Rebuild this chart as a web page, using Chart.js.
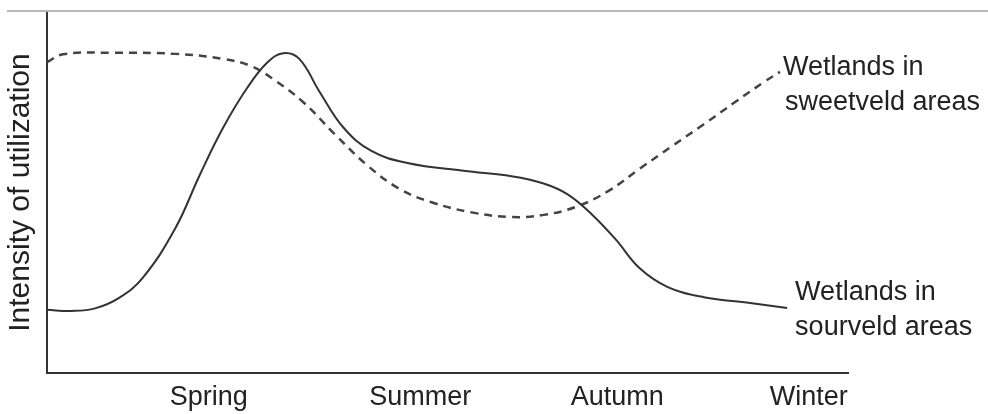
<!DOCTYPE html>
<html>
<head>
<meta charset="utf-8">
<script src="https://cdn.jsdelivr.net/npm/chart.js@4.4.1/dist/chart.umd.min.js"></script>
<style>
    html, body { margin: 0; padding: 0; background: #fff; }
    #wrap { position: relative; width: 988px; height: 414px; }
    #topRule { position: absolute; top: 10px; left: 7px; right: 0; border-top: 2px solid #b8b8b8; }
</style>
</head>
<body>
<div id="wrap">
    <canvas id="usageChart" width="988" height="414"></canvas>
    <div id="topRule"></div>
</div>
<script>
// Seasons along the x axis and where they sit (0-100 scale)
const seasons = ['Spring', 'Summer', 'Autumn', 'Winter'];
const seasonPos = [20.2, 46.6, 71.2, 95.1];

// Wetlands in sourveld areas (solid)
const sourX = [0, 3, 6, 9, 12, 16, 19.1, 22, 25, 27.5, 29.5, 31.5, 34, 37, 40.5, 45, 52, 58, 62, 65, 68, 71, 74, 77.5, 82, 87.8, 92.4];
const sourY = [17.5, 17.2, 17.9, 20.8, 26.5, 40, 55, 68, 79, 86, 88.6, 87, 78, 68, 61.5, 58.2, 56, 54.5, 52.5, 49.5, 44, 37, 29, 23.8, 21, 19.4, 18.0];

// Wetlands in sweetveld areas (dashed)
const sweetX = [0, 2, 8, 16, 22, 25.5, 28.5, 32, 36, 40, 44, 48, 53, 58, 62, 66, 70, 74, 78, 82, 86, 89.5, 91.5];
const sweetY = [86.1, 88.3, 88.7, 88.4, 87.0, 85, 81, 75, 66, 57.5, 51, 47.3, 44.5, 43.2, 43.8, 46, 50.3, 56.6, 62.8, 68.9, 75.2, 80.6, 83.4];

const sourLabel = ['Wetlands in', 'sourveld areas'];
const sweetLabel = ['Wetlands in', 'sweetveld areas'];

const fontFamily = '"Liberation Sans", Arial, sans-serif';
const inkColor = '#222';

function toPoints(xs, ys) {
    return xs.map(function (x, i) { return { x: x, y: ys[i] }; });
}

// writes the two-line captions next to the end of each curve
const endLabels = {
    id: 'endLabels',
    afterDatasetsDraw: function (chart) {
        const ctx = chart.ctx;
        const xs = chart.scales.x;
        const ys = chart.scales.y;
        ctx.save();
        ctx.font = '27px ' + fontFamily;
        ctx.fillStyle = inkColor;
        ctx.textBaseline = 'alphabetic';

        let px = xs.getPixelForValue(sweetX[sweetX.length - 1]);
        let py = ys.getPixelForValue(sweetY[sweetY.length - 1]);
        ctx.fillText(sweetLabel[0], px + 3, py + 3);
        ctx.fillText(sweetLabel[1], px + 5, py + 38);

        px = xs.getPixelForValue(sourX[sourX.length - 1]);
        py = ys.getPixelForValue(sourY[sourY.length - 1]);
        ctx.fillText(sourLabel[0], px + 8, py - 8);
        ctx.fillText(sourLabel[1], px + 8, py + 27);
        ctx.restore();
    }
};

const ctx = document.getElementById('usageChart').getContext('2d');
new Chart(ctx, {
    type: 'line',
    data: {
        datasets: [
            {
                label: 'Wetlands in sourveld areas',
                data: toPoints(sourX, sourY),
                borderColor: '#333',
                borderWidth: 2,
                pointRadius: 0,
                tension: 0.4,
                fill: false
            },
            {
                label: 'Wetlands in sweetveld areas',
                data: toPoints(sweetX, sweetY),
                borderColor: '#444',
                borderWidth: 2.5,
                borderDash: [8, 6],
                pointRadius: 0,
                tension: 0.4,
                fill: false
            }
        ]
    },
    options: {
        responsive: false,
        animation: false,
        layout: {
            padding: { top: 12, right: 140, left: 0, bottom: 0 }
        },
        plugins: {
            legend: { display: false },
            tooltip: { enabled: false }
        },
        scales: {
            x: {
                type: 'linear',
                min: 0,
                max: 100,
                grid: { display: false, drawTicks: false },
                border: { display: true, color: '#333', width: 2 },
                afterBuildTicks: function (scale) {
                    scale.ticks = seasonPos.map(function (v) { return { value: v }; });
                },
                afterFit: function (scale) {
                    scale.height = 41;
                },
                ticks: {
                    autoSkip: false,
                    maxRotation: 0,
                    padding: 8,
                    color: inkColor,
                    font: { family: fontFamily, size: 27 },
                    callback: function (value, index) {
                        return seasons[index];
                    }
                }
            },
            y: {
                min: 0,
                max: 100,
                grid: { display: false, drawTicks: false },
                border: { display: true, color: '#333', width: 2 },
                ticks: { display: false },
                afterFit: function (scale) {
                    scale.width = 47;
                },
                title: {
                    display: true,
                    text: 'Intensity of utilization',
                    color: inkColor,
                    font: { family: fontFamily, size: 30 },
                    padding: { top: 3, bottom: 0 }
                }
            }
        }
    },
    plugins: [endLabels]
});
</script>
</body>
</html>
